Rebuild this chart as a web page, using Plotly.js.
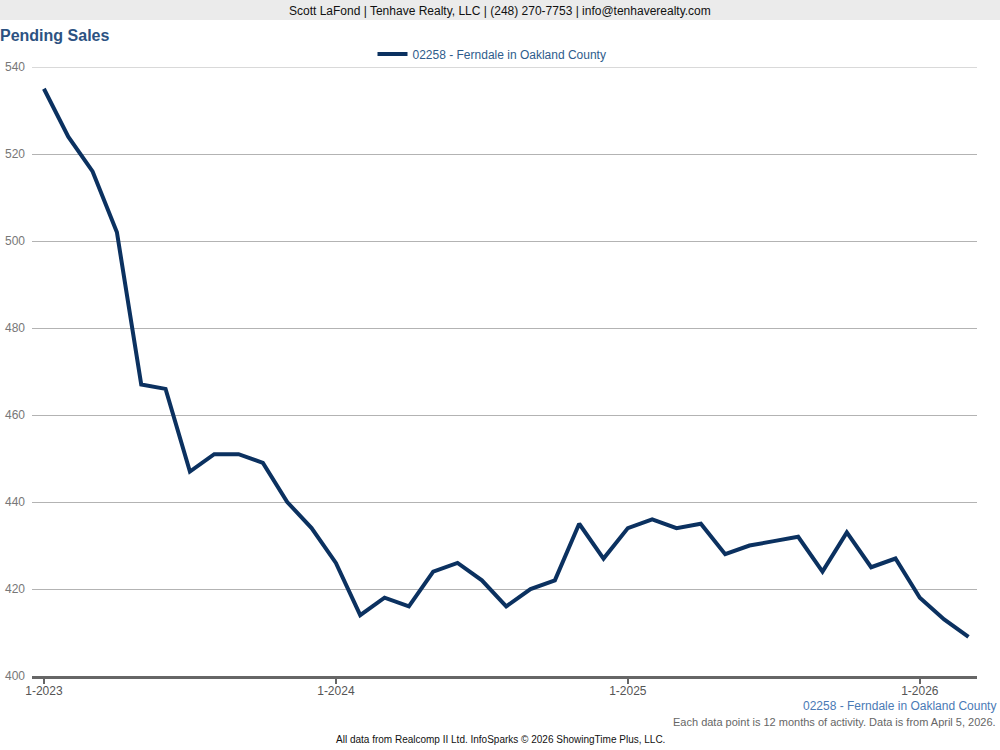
<!DOCTYPE html>
<html>
<head>
<meta charset="utf-8">
<script src="https://cdn.plot.ly/plotly-3.0.1.min.js"></script>
<style>html,body{margin:0;padding:0;background:#fff;}#chart{width:1000px;height:750px;}</style>
</head>
<body>
<div id="chart"></div>
<script>
const months = [
  "1-2023","2-2023","3-2023","4-2023","5-2023","6-2023","7-2023","8-2023","9-2023","10-2023","11-2023","12-2023",
  "1-2024","2-2024","3-2024","4-2024","5-2024","6-2024","7-2024","8-2024","9-2024","10-2024","11-2024","12-2024",
  "1-2025","2-2025","3-2025","4-2025","5-2025","6-2025","7-2025","8-2025","9-2025","10-2025","11-2025","12-2025",
  "1-2026","2-2026","3-2026"
];
const pendingSales = [
  535, 524, 516, 502, 467, 466, 447, 451, 451, 449, 440, 434,
  426, 414, 418, 416, 424, 426, 422, 416, 420, 422, 435, 427,
  434, 436, 434, 435, 428, 430, 431, 432, 424, 433, 425, 427,
  418, 413, 409
];
const tickLabels = ["1-2023","1-2024","1-2025","1-2026"];
const yTicks = [400, 420, 440, 460, 480, 500, 520, 540];
const yMin = 400, yMax = 540;
const seriesName = "02258 - Ferndale in Oakland County";

const W = 1000, H = 750, ML = 32, MR = 23, MT = 67, MB = 74;
const ph = H - MT - MB, pw = W - ML - MR;
const py = v => 1 + (MT - v) / ph; // container y px -> paper y
const px = v => (v - ML) / pw;

const font = "Liberation Sans, Arial, sans-serif";

const trace = {
  x: months,
  y: pendingSales,
  type: "scatter",
  mode: "lines",
  name: seriesName,
  line: {color: "#0b3160", width: 4}
};

const layout = {
  width: W, height: H,
  margin: {l: ML, r: MR, t: MT, b: MB},
  paper_bgcolor: "#fff",
  plot_bgcolor: "#fff",
  font: {family: font, size: 12, color: "#555"},
  title: {
    text: "<b>Pending Sales</b>",
    font: {family: font, size: 16, color: "#2c5282"},
    xref: "container", x: 0, xanchor: "left",
    yref: "container", y: 1 - 35 / H, yanchor: "middle"
  },
  showlegend: true,
  legend: {
    orientation: "h", x: px(492), xanchor: "center",
    y: py(54), yanchor: "middle",
    bgcolor: "rgba(0,0,0,0)",
    font: {family: font, size: 12, color: "#2e5c8c"},
    itemwidth: 30
  },
  xaxis: {
    type: "category",
    range: [-0.49, 38.35],
    tickmode: "array",
    tickvals: tickLabels,
    ticktext: tickLabels,
    showgrid: false,
    showline: true, linecolor: "#666", linewidth: 3,
    ticks: "outside", ticklen: 5, tickwidth: 2, tickcolor: "#666",
    ticklabelstandoff: -3,
    tickfont: {family: font, size: 12, color: "#555"},
    zeroline: false, fixedrange: true
  },
  yaxis: {
    range: [yMin, yMax],
    tickmode: "array",
    tickvals: yTicks,
    showgrid: true, gridcolor: "#b3b3b3", gridwidth: 1,
    zeroline: false, showline: false,
    ticks: "", ticklabelstandoff: 6,
    tickfont: {family: font, size: 12, color: "#777"},
    fixedrange: true
  },
  shapes: [
    {type: "rect", xref: "paper", yref: "paper",
     x0: px(0), x1: px(W), y0: py(0), y1: py(20),
     fillcolor: "#ebebeb", line: {width: 0}, layer: "below"},
    {type: "line", xref: "paper", yref: "y",
     x0: 0, x1: 1, y0: yMax, y1: yMax,
     line: {color: "#b3b3b3", width: 1}, layer: "below"}
  ],
  annotations: [
    {text: "Scott LaFond | Tenhave Realty, LLC | (248) 270-7753 | info@tenhaverealty.com",
     xref: "paper", yref: "paper", x: px(500), y: py(11), xanchor: "center", yanchor: "middle",
     showarrow: false, font: {family: font, size: 12, color: "#111"}},
    {text: seriesName,
     xref: "paper", yref: "paper", x: px(998), y: py(706), xanchor: "right", yanchor: "middle",
     showarrow: false, font: {family: font, size: 12, color: "#4a7ab5"}},
    {text: "Each data point is 12 months of activity. Data is from April 5, 2026.",
     xref: "paper", yref: "paper", x: px(998), y: py(722), xanchor: "right", yanchor: "middle",
     showarrow: false, font: {family: font, size: 11, color: "#666"}},
    {text: "All data from Realcomp II Ltd. InfoSparks © 2026 ShowingTime Plus, LLC.",
     xref: "paper", yref: "paper", x: px(500), y: py(739), xanchor: "center", yanchor: "middle",
     showarrow: false, font: {family: font, size: 10, color: "#111"}}
  ]
};

Plotly.newPlot("chart", [trace], layout, {displayModeBar: false, staticPlot: true});
</script>
</body>
</html>
